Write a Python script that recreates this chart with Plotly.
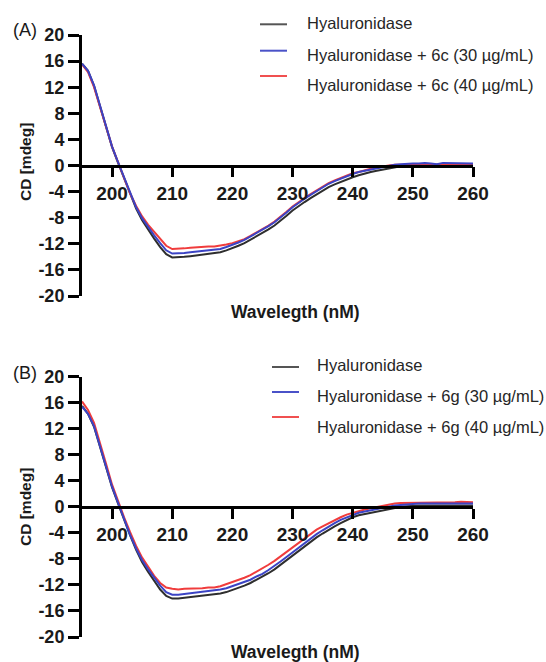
import plotly.graph_objects as go

# ---------------- data ----------------
wavelength = list(range(195, 261))

a_control = [15.6, 14.5, 12.2, 9.0, 5.8, 2.8, 0.4, -2.0, -4.4, -6.6,
             -8.4, -9.9, -11.2, -12.5, -13.6, -14.1, -14.1, -14.0, -13.9, -13.8,
             -13.7, -13.6, -13.5, -13.3, -13.0, -12.7, -12.3, -11.9, -11.4, -10.9,
             -10.4, -9.8, -9.2, -8.5, -7.7, -6.9, -6.2, -5.6, -5.0, -4.4,
             -3.8, -3.3, -2.9, -2.5, -2.1, -1.8, -1.5, -1.2, -1.0, -0.8,
             -0.6, -0.4, -0.2, -0.1, 0.0, 0.1, 0.1, 0.2, 0.1, 0.1,
             0.2, 0.2, 0.1, 0.2, 0.2, 0.1]
a_30 = [15.6, 14.5, 12.3, 9.1, 5.9, 2.9, 0.5, -1.9, -4.3, -6.4,
        -8.1, -9.5, -10.7, -11.9, -13.0, -13.5, -13.5, -13.4, -13.3, -13.2,
        -13.1, -13.0, -13.0, -12.8, -12.5, -12.2, -11.8, -11.4, -10.9, -10.4,
        -9.9, -9.3, -8.7, -8.0, -7.2, -6.4, -5.7, -5.1, -4.5, -3.9,
        -3.3, -2.8, -2.4, -2.0, -1.6, -1.3, -1.0, -0.8, -0.6, -0.4,
        -0.2, -0.1, 0.1, 0.2, 0.3, 0.3, 0.3, 0.4, 0.3, 0.2,
        0.4, 0.4, 0.3, 0.4, 0.4, 0.3]
a_40 = [15.5, 14.3, 12.0, 9.0, 5.9, 2.9, 0.5, -1.9, -4.3, -6.2,
        -7.8, -9.1, -10.2, -11.3, -12.3, -12.8, -12.8, -12.7, -12.6, -12.5,
        -12.4, -12.4, -12.4, -12.3, -12.1, -11.9, -11.6, -11.3, -10.8, -10.3,
        -9.8, -9.2, -8.6, -7.9, -7.1, -6.3, -5.6, -5.0, -4.4, -3.8,
        -3.2, -2.7, -2.3, -1.9, -1.5, -1.2, -1.0, -0.7, -0.5, -0.3,
        -0.1, 0.0, 0.1, 0.1, 0.1, 0.2, 0.1, 0.2, 0.1, 0.1,
        0.2, 0.2, 0.1, 0.1, 0.1, 0.0]

b_control = [15.5, 14.3, 12.3, 9.2, 6.0, 3.0, 0.5, -2.0, -4.4, -6.6,
             -8.5, -10.0, -11.4, -12.7, -13.7, -14.1, -14.1, -14.0, -13.9, -13.8,
             -13.7, -13.6, -13.5, -13.3, -13.1, -12.8, -12.5, -12.1, -11.7, -11.2,
             -10.8, -10.2, -9.6, -8.9, -8.2, -7.5, -6.7, -6.0, -5.3, -4.7,
             -4.1, -3.5, -3.0, -2.5, -2.0, -1.6, -1.3, -1.1, -0.9, -0.7,
             -0.5, -0.3, -0.1, 0.0, 0.1, 0.2, 0.2, 0.2, 0.2, 0.3,
             0.3, 0.3, 0.3, 0.3, 0.3, 0.2]
b_30 = [15.4, 14.3, 12.4, 9.3, 6.1, 3.1, 0.6, -1.9, -4.3, -6.4,
        -8.2, -9.6, -10.9, -12.1, -13.1, -13.5, -13.5, -13.4, -13.3, -13.2,
        -13.1, -13.0, -12.9, -12.7, -12.5, -12.2, -11.9, -11.6, -11.2, -10.7,
        -10.3, -9.7, -9.1, -8.4, -7.7, -7.0, -6.2, -5.5, -4.8, -4.2,
        -3.6, -3.0, -2.5, -2.0, -1.6, -1.2, -0.9, -0.7, -0.5, -0.3,
        -0.1, 0.1, 0.2, 0.3, 0.4, 0.4, 0.5, 0.5, 0.5, 0.5,
        0.5, 0.5, 0.5, 0.5, 0.5, 0.5]
b_40 = [16.2, 14.9, 12.9, 9.9, 6.6, 3.4, 0.8, -1.6, -3.9, -6.0,
        -7.8, -9.3, -10.6, -11.7, -12.4, -12.6, -12.7, -12.6, -12.6, -12.5,
        -12.5, -12.4, -12.4, -12.2, -11.9, -11.6, -11.3, -10.9, -10.5, -10.0,
        -9.5, -8.9, -8.3, -7.6, -6.9, -6.2, -5.5, -4.8, -4.1, -3.5,
        -3.0, -2.5, -2.0, -1.6, -1.2, -0.9, -0.6, -0.4, -0.2, 0.0,
        0.2, 0.4, 0.5, 0.6, 0.6, 0.7, 0.7, 0.7, 0.7, 0.7,
        0.7, 0.7, 0.7, 0.8, 0.7, 0.7]

x_tickvals = [200, 210, 220, 230, 240, 250, 260]
x_ticktext = ["200", "210", "220", "230", "240", "250", "260"]
y_tickvals = [-20, -16, -12, -8, -4, 0, 4, 8, 12, 16, 20]
y_ticktext = ["-20", "-16", "-12", "-8", "-4", "0", "4", "8", "12", "16", "20"]

names_a = ["Hyaluronidase", "Hyaluronidase + 6c (30 µg/mL)", "Hyaluronidase + 6c (40 µg/mL)"]
names_b = ["Hyaluronidase", "Hyaluronidase + 6g (30 µg/mL)", "Hyaluronidase + 6g (40 µg/mL)"]
panel_labels = ["(A)", "(B)"]
x_title = "Wavelegth (nM)"
y_title = "CD [mdeg]"

# ---------------- styling / layout ----------------
W, H = 546, 662
ML, MR, MT, MB = 82, 73, 35, 25
PW, PH = W - ML - MR, H - MT - MB

def px(xp):
    return (xp - ML) / PW

def py(yp):
    return (H - MB - yp) / PH

colors = ["#2e2e2e", "#3b43c4", "#f03c3c"]
legend_line_colors = ["#555555", "#4a52c8", "#f05050"]
FONT = "Liberation Sans, Arial, sans-serif"

top_dom = [py(296), 1.0]
bot_dom = [0.0, py(376.7)]

fig = go.Figure()

order = [0, 2, 1]
for series, xa, ya in [((a_control, a_30, a_40), "x", "y"),
                       ((b_control, b_30, b_40), "x2", "y2")]:
    for i in order:
        fig.add_trace(go.Scatter(x=wavelength, y=series[i], mode="lines",
                                 line=dict(color=colors[i], width=2),
                                 xaxis=xa, yaxis=ya, showlegend=False,
                                 hoverinfo="skip"))

def xaxis_cfg(dom):
    return dict(domain=[0, 1], range=[195, 260], anchor="free",
                position=(dom[0] + dom[1]) / 2,
                showline=True, linecolor="black", linewidth=2.5,
                ticks="outside", ticklen=10, tickwidth=2.5, tickcolor="black",
                tickvals=x_tickvals, ticktext=x_ticktext,
                tickfont=dict(family=FONT, size=19, color="#1a1a1a", weight="bold"),
                ticklabelstandoff=0,
                showgrid=False, zeroline=False, fixedrange=True)

def yaxis_cfg(dom, anchor):
    return dict(domain=dom, range=[-20, 20], anchor=anchor,
                showline=True, linecolor="black", linewidth=3,
                ticks="outside", ticklen=11, tickwidth=2.5, tickcolor="black",
                tickvals=y_tickvals, ticktext=y_ticktext,
                tickfont=dict(family=FONT, size=18, color="#1a1a1a", weight="bold"),
                showgrid=False, zeroline=False, fixedrange=True)

fig.update_layout(
    width=W, height=H,
    margin=dict(l=ML, r=MR, t=MT, b=MB),
    plot_bgcolor="white", paper_bgcolor="white",
    xaxis=xaxis_cfg(top_dom), yaxis=yaxis_cfg(top_dom, "x"),
    xaxis2=xaxis_cfg(bot_dom), yaxis2=yaxis_cfg(bot_dom, "x2"),
    showlegend=False,
)

annotations = []
shapes = []

# axis titles and panel labels
for lab, ylab_center, yxt, ypl in [(panel_labels[0], 162, 312, 30),
                                   (panel_labels[1], 507, 652, 373)]:
    annotations.append(dict(text=y_title, x=px(25), y=py(ylab_center), xref="paper", yref="paper",
                            showarrow=False, textangle=-90, xanchor="center", yanchor="middle",
                            font=dict(family=FONT, size=15.5, color="#1a1a1a", weight="bold")))
    annotations.append(dict(text=x_title, x=px(295), y=py(yxt), xref="paper", yref="paper",
                            showarrow=False, xanchor="center", yanchor="middle",
                            font=dict(family=FONT, size=17.5, color="#1a1a1a", weight="bold")))
    annotations.append(dict(text=lab, x=px(25), y=py(ypl), xref="paper", yref="paper",
                            showarrow=False, xanchor="center", yanchor="middle",
                            font=dict(family=FONT, size=18, color="#1a1a1a")))

# manual legends
legend_specs = [
    (names_a, 260, 287, 305, [24.3, 50.7, 76.0], [22.7, 55.0, 85.0]),
    (names_b, 272, 299, 315, [367.0, 392.0, 417.0], [365.0, 396.0, 427.3]),
]
for names, lx0, lx1, tx, lys, tys in legend_specs:
    for i in range(3):
        shapes.append(dict(type="line", xref="paper", yref="paper",
                           x0=px(lx0), x1=px(lx1), y0=py(lys[i]), y1=py(lys[i]),
                           line=dict(color=legend_line_colors[i], width=2)))
        annotations.append(dict(text=names[i], x=px(tx), y=py(tys[i]), xref="paper", yref="paper",
                                showarrow=False, xanchor="left", yanchor="middle",
                                font=dict(family=FONT, size=16.5, color="#262626")))

fig.update_layout(annotations=annotations, shapes=shapes)

fig.write_html("out.html")
